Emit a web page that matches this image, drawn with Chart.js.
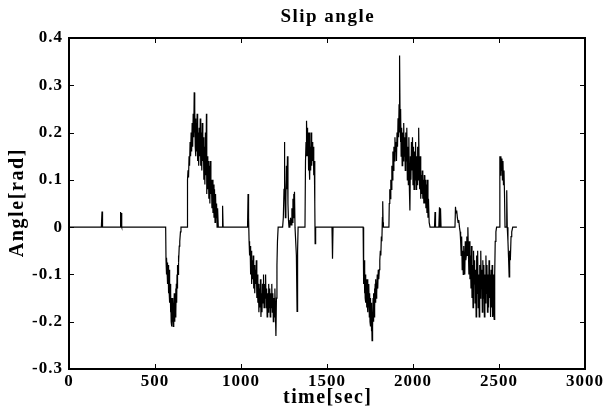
<!DOCTYPE html>
<html>
<head>
<meta charset="utf-8">
<script src="https://cdn.jsdelivr.net/npm/chart.js@4.4.1/dist/chart.umd.min.js"></script>
<style>
  html, body { margin: 0; padding: 0; background: #fff; }
  canvas { display: block; }
</style>
</head>
<body>
<canvas id="slipChart" width="605" height="410"></canvas>
<script>
// --- DATA ---
const timeSec = [
    0, 188, 192, 195, 297, 300, 303, 305, 308, 562,
    564, 566, 568, 570, 572, 574, 576, 578, 580, 582,
    584, 586, 588, 590, 592, 594, 596, 598, 600, 602,
    604, 606, 608, 610, 612, 614, 616, 618, 620, 622,
    624, 626, 628, 630, 632, 634, 636, 638, 641, 644,
    648, 651, 688, 689, 692, 695, 698, 701, 704, 707,
    710, 713, 716, 719, 722, 725, 728, 730, 732, 734,
    736, 738, 740, 742, 745, 748, 751, 754, 757, 760,
    763, 766, 769, 772, 775, 778, 781, 784, 787, 790,
    793, 796, 799, 801, 804, 807, 810, 813, 816, 819,
    822, 825, 828, 831, 834, 837, 840, 843, 846, 849,
    852, 855, 858, 861, 864, 868, 890, 893, 896, 1038,
    1041, 1044, 1047, 1050, 1053, 1056, 1059, 1062, 1065, 1068,
    1071, 1074, 1077, 1080, 1083, 1086, 1089, 1092, 1095, 1098,
    1101, 1104, 1107, 1110, 1113, 1116, 1119, 1122, 1125, 1128,
    1131, 1134, 1137, 1140, 1143, 1146, 1149, 1152, 1155, 1158,
    1161, 1164, 1167, 1170, 1173, 1176, 1179, 1182, 1185, 1188,
    1191, 1194, 1197, 1200, 1203, 1206, 1209, 1212, 1216, 1242,
    1246, 1250, 1252, 1255, 1258, 1261, 1264, 1267, 1270, 1273,
    1276, 1279, 1284, 1288, 1292, 1296, 1299, 1302, 1304, 1306,
    1308, 1311, 1314, 1318, 1322, 1326, 1329, 1332, 1372, 1375,
    1378, 1380, 1382, 1384, 1386, 1388, 1390, 1392, 1394, 1396,
    1398, 1400, 1402, 1405, 1408, 1411, 1414, 1417, 1420, 1423,
    1426, 1429, 1431, 1434, 1529, 1532, 1535, 1710, 1712, 1714,
    1716, 1718, 1720, 1722, 1724, 1726, 1728, 1730, 1732, 1734,
    1736, 1738, 1740, 1742, 1744, 1746, 1748, 1750, 1752, 1754,
    1756, 1758, 1760, 1762, 1764, 1766, 1768, 1770, 1772, 1774,
    1776, 1778, 1780, 1782, 1784, 1786, 1788, 1790, 1792, 1795,
    1798, 1801, 1804, 1807, 1810, 1813, 1816, 1819, 1822, 1824,
    1826, 1828, 1860, 1862, 1865, 1868, 1871, 1874, 1877, 1880,
    1883, 1886, 1889, 1892, 1895, 1898, 1901, 1904, 1907, 1910,
    1913, 1916, 1919, 1921, 1923, 1925, 1927, 1929, 1931, 1934,
    1937, 1940, 1943, 1946, 1949, 1952, 1955, 1958, 1961, 1964,
    1967, 1970, 1973, 1976, 1979, 1982, 1985, 1988, 1991, 1994,
    1997, 2000, 2003, 2006, 2009, 2012, 2015, 2018, 2021, 2024,
    2027, 2030, 2033, 2036, 2039, 2042, 2045, 2048, 2051, 2054,
    2057, 2060, 2063, 2066, 2069, 2072, 2075, 2078, 2081, 2084,
    2087, 2090, 2094, 2099, 2125, 2128, 2131, 2150, 2154, 2157,
    2160, 2163, 2244, 2247, 2250, 2254, 2258, 2262, 2266, 2270,
    2274, 2277, 2280, 2283, 2286, 2289, 2292, 2295, 2298, 2301,
    2304, 2307, 2310, 2313, 2316, 2319, 2322, 2325, 2328, 2331,
    2334, 2337, 2340, 2343, 2346, 2349, 2352, 2355, 2358, 2361,
    2364, 2367, 2370, 2373, 2376, 2379, 2382, 2385, 2388, 2391,
    2394, 2397, 2400, 2403, 2406, 2409, 2412, 2415, 2418, 2421,
    2424, 2427, 2430, 2433, 2436, 2439, 2442, 2445, 2448, 2451,
    2454, 2457, 2460, 2463, 2466, 2469, 2472, 2475, 2478, 2482,
    2486, 2502, 2505, 2508, 2511, 2514, 2517, 2520, 2523, 2526,
    2529, 2532, 2535, 2538, 2542, 2545, 2548, 2552, 2556, 2559,
    2562, 2566, 2570, 2574, 2580, 2604
];

const angleRad = [
    0, 0, 0.033, 0, 0, 0.032, 0.004, 0.03, 0, 0,
    -0.07, -0.1, -0.065, -0.09, -0.075, -0.12, -0.08, -0.14, -0.1, -0.135,
    -0.09, -0.16, -0.12, -0.18, -0.14, -0.2, -0.15, -0.21, -0.17, -0.2,
    -0.15, -0.21, -0.165, -0.19, -0.14, -0.2, -0.16, -0.19, -0.13, -0.18,
    -0.12, -0.16, -0.1, -0.13, -0.08, -0.1, -0.06, -0.075, -0.04, -0.03,
    -0.01, 0, 0, 0.1, 0.12, 0.105, 0.15, 0.13, 0.18, 0.15,
    0.2, 0.16, 0.22, 0.17, 0.24, 0.19, 0.285, 0.2, 0.25, 0.17,
    0.23, 0.15, 0.22, 0.16, 0.24, 0.14, 0.2, 0.13, 0.21, 0.15,
    0.23, 0.13, 0.2, 0.12, 0.22, 0.14, 0.19, 0.1, 0.17, 0.09,
    0.2, 0.11, 0.24, 0.07, 0.15, 0.08, 0.14, 0.06, 0.13, 0.05,
    0.14, 0.07, 0.1, 0.04, 0.1, 0.03, 0.09, 0.02, 0.08, 0.01,
    0.07, 0.02, 0.05, 0, 0.04, 0, 0, 0.045, 0, 0,
    0.07, 0.02, -0.03, -0.06, -0.04, -0.1, -0.05, -0.12, -0.07, -0.11,
    -0.06, -0.13, -0.08, -0.14, -0.09, -0.12, -0.07, -0.15, -0.1, -0.16,
    -0.12, -0.18, -0.13, -0.17, -0.11, -0.19, -0.14, -0.18, -0.12, -0.16,
    -0.1, -0.17, -0.12, -0.15, -0.1, -0.17, -0.13, -0.19, -0.14, -0.18,
    -0.12, -0.17, -0.13, -0.19, -0.14, -0.17, -0.12, -0.18, -0.14, -0.2,
    -0.15, -0.19, -0.13, -0.18, -0.23, -0.15, -0.08, -0.03, 0, 0,
    0.02, 0.08, 0.18, 0.1, 0.02, 0.06, 0.13, 0.08, 0.15, 0.05,
    0.015, 0, 0, 0.02, 0.005, 0.04, 0.01, 0.06, 0.02, 0.07,
    0.03, 0.075, 0, 0, -0.06, -0.178, -0.05, 0, 0, 0.14,
    0.18, 0.15, 0.225, 0.17, 0.21, 0.15, 0.2, 0.12, 0.19, 0.14,
    0.2, 0.1, 0.17, 0.12, 0.2, 0.13, 0.18, 0.14, 0.17, 0.11,
    0.14, 0.05, -0.035, 0, 0, -0.067, 0, 0, -0.08, -0.12,
    -0.07, -0.14, -0.09, -0.15, -0.1, -0.16, -0.11, -0.17, -0.12, -0.16,
    -0.11, -0.18, -0.13, -0.17, -0.12, -0.19, -0.14, -0.2, -0.15, -0.21,
    -0.16, -0.22, -0.17, -0.24, -0.18, -0.21, -0.15, -0.2, -0.14, -0.19,
    -0.13, -0.17, -0.12, -0.16, -0.11, -0.15, -0.12, -0.14, -0.1, -0.13,
    -0.09, -0.11, -0.09, -0.07, -0.05, -0.06, -0.02, -0.03, 0.02, 0.055,
    0.01, 0, 0, 0.05, 0.08, 0.06, 0.1, 0.08, 0.13, 0.1,
    0.16, 0.12, 0.17, 0.14, 0.19, 0.16, 0.18, 0.14, 0.2, 0.17,
    0.23, 0.19, 0.26, 0.2, 0.363, 0.22, 0.18, 0.25, 0.15, 0.21,
    0.13, 0.2, 0.14, 0.22, 0.15, 0.19, 0.12, 0.2, 0.14, 0.21,
    0.1, 0.17, 0.09, 0.19, 0.08, 0.035, 0.15, 0.1, 0.18, 0.12,
    0.19, 0.09, 0.17, 0.08, 0.16, 0.1, 0.18, 0.08, 0.15, 0.09,
    0.17, 0.1, 0.21, 0.12, 0.08, 0.15, 0.06, 0.11, 0.07, 0.12,
    0.06, 0.1, 0.05, 0.11, 0.05, 0.1, 0.04, 0.09, 0.03, 0.1,
    0.02, 0.06, 0.01, 0, 0, 0.032, 0, 0, 0.042, 0,
    0.04, 0, 0, 0.043, 0.03, 0.035, 0.02, 0.01, 0.015, 0,
    -0.01, -0.03, -0.06, -0.02, -0.09, -0.05, -0.1, -0.04, -0.08, -0.1,
    -0.03, -0.07, -0.06, -0.02, -0.06, 0, -0.05, -0.1, -0.03, -0.11,
    -0.06, -0.13, -0.04, -0.15, -0.08, -0.17, -0.05, -0.12, -0.07, -0.16,
    -0.09, -0.19, -0.06, -0.14, -0.05, -0.17, -0.1, -0.19, -0.08, -0.15,
    -0.05, -0.13, -0.09, -0.18, -0.07, -0.15, -0.08, -0.19, -0.1, -0.16,
    -0.06, -0.14, -0.08, -0.18, -0.1, -0.17, -0.07, -0.15, -0.1, -0.19,
    -0.09, -0.17, -0.08, -0.19, -0.1, -0.18, -0.195, -0.1, -0.03, -0.01,
    0, 0, 0.15, 0.11, 0.15, 0.12, 0.145, 0.1, 0.14, 0.09,
    0.12, 0.07, 0, 0, 0, 0.078, 0, -0.03, -0.07, -0.105,
    -0.05, -0.07, -0.02, -0.01, 0, 0
];

const xTickValues = [0, 500, 1000, 1500, 2000, 2500, 3000];
const yTickValues = [-0.3, -0.2, -0.1, 0, 0.1, 0.2, 0.3, 0.4];

const chartTitle = 'Slip angle';
const xAxisTitle = 'time[sec]';
const yAxisTitle = 'Angle[rad]';

// --- STYLE ---
const SERIF = "'Liberation Serif', 'Times New Roman', serif";

if (timeSec.length !== angleRad.length) {
    console.error('length mismatch', timeSec.length, angleRad.length);
}

const points = timeSec.map((t, i) => ({ x: t, y: angleRad[i] }));

const drawSpaced = (ctx, text, x, y, spacing) => {
    // canvas letterSpacing adds a trailing gap, shift by half of it to stay centred
    ctx.letterSpacing = spacing + 'px';
    ctx.fillText(text, x + spacing / 2, y);
};

// frame, inward ticks and titles (matlab look)
const framePlugin = {
    id: 'frame',
    beforeDraw(chart) {
        chart.ctx.letterSpacing = '1px';
    },
    afterDraw(chart) {
        const { ctx, chartArea: a, scales: { x, y } } = chart;
        ctx.save();
        ctx.letterSpacing = '0px';
        ctx.strokeStyle = '#000';
        ctx.lineWidth = 1;
        ctx.beginPath();
        xTickValues.forEach(v => {
            const px = Math.round(x.getPixelForValue(v)) + 0.5;
            ctx.moveTo(px, a.bottom); ctx.lineTo(px, a.bottom - 5);
            ctx.moveTo(px, a.top); ctx.lineTo(px, a.top + 5);
        });
        yTickValues.forEach(v => {
            const py = Math.round(y.getPixelForValue(v)) + 0.5;
            ctx.moveTo(a.left, py); ctx.lineTo(a.left + 5, py);
            ctx.moveTo(a.right, py); ctx.lineTo(a.right - 5, py);
        });
        ctx.stroke();
        ctx.lineWidth = 2;
        ctx.strokeRect(a.left, a.top, a.right - a.left, a.bottom - a.top);

        ctx.fillStyle = '#000';
        ctx.textAlign = 'center';
        ctx.textBaseline = 'middle';
        const cx = (a.left + a.right) / 2;

        ctx.font = `bold 19px ${SERIF}`;
        drawSpaced(ctx, chartTitle, cx, 17, 1.5);

        ctx.font = `bold 20px ${SERIF}`;
        drawSpaced(ctx, xAxisTitle, cx, 398, 1.4);

        ctx.save();
        ctx.translate(18, (a.top + a.bottom) / 2);
        ctx.rotate(-Math.PI / 2);
        drawSpaced(ctx, yAxisTitle, 0, 0, 1.6);
        ctx.restore();

        ctx.restore();
    }
};

const tickFont = { family: SERIF, size: 17, weight: 'bold' };

new Chart(document.getElementById('slipChart'), {
    type: 'line',
    data: {
        datasets: [{
            data: points,
            borderColor: '#000',
            borderWidth: 1.2,
            pointRadius: 0,
            tension: 0,
            fill: false
        }]
    },
    options: {
        responsive: false,
        animation: false,
        devicePixelRatio: 1,
        layout: { padding: { top: 38, right: 20, bottom: 0, left: 0 } },
        plugins: {
            legend: { display: false },
            tooltip: { enabled: false },
            title: { display: false }
        },
        scales: {
            x: {
                type: 'linear',
                min: 0,
                max: 3000,
                afterBuildTicks: s => { s.ticks = xTickValues.map(v => ({ value: v })); },
                afterFit: s => { s.height = 41; },
                ticks: {
                    color: '#000',
                    font: tickFont,
                    padding: 2,
                    maxRotation: 0,
                    autoSkip: false,
                    callback: v => String(v)
                },
                grid: { display: false, drawTicks: false },
                border: { display: false }
            },
            y: {
                type: 'linear',
                min: -0.3,
                max: 0.4,
                afterBuildTicks: s => { s.ticks = yTickValues.map(v => ({ value: v })); },
                afterFit: s => { s.width = 69; },
                ticks: {
                    color: '#000',
                    font: tickFont,
                    padding: 6,
                    callback: v => (Math.abs(v) < 1e-9 ? '0' : v.toFixed(1))
                },
                grid: { display: false, drawTicks: false },
                border: { display: false }
            }
        }
    },
    plugins: [framePlugin]
});
</script>
</body>
</html>
